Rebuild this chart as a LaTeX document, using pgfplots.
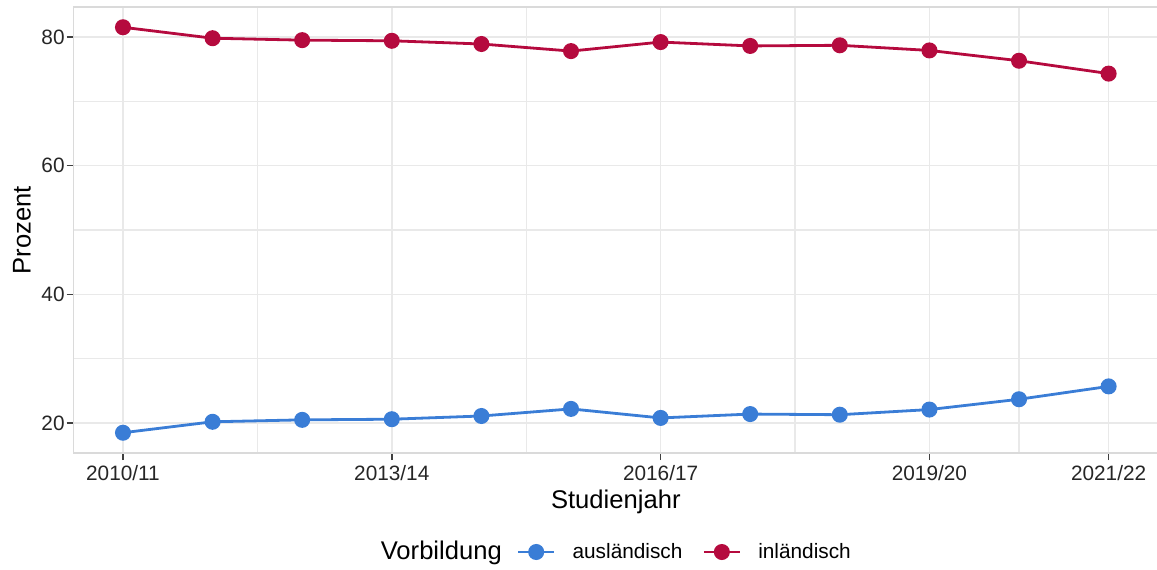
\documentclass[border=0pt]{standalone}
\usepackage{fontspec}
\setmainfont{Liberation Sans}
\usepackage{pgfplots}
\pgfplotsset{compat=1.18}
\definecolor{cblue}{RGB}{58,125,214}
\definecolor{cred}{RGB}{181,10,62}
\definecolor{gridc}{RGB}{233,233,233}
\definecolor{borderc}{RGB}{218,218,218}
\begin{document}
\begin{tikzpicture}
\useasboundingbox (-36.85pt,-58pt) rectangle (541.65pt,226.5pt);
\begin{axis}[
  at={(0,0)}, anchor=south west,
  scale only axis,
  width=542.1pt, height=223pt,
  xmin=-0.55, xmax=11.55,
  ymin=15.35, ymax=84.65,
  xtick={0,3,6,9,11},
  xticklabels={2010/11,2013/14,2016/17,2019/20,2021/22},
  minor xtick={1.5,4.5,7.5,10},
  ytick={20,40,60,80},
  minor ytick={30,50,70},
  grid=both,
  major grid style={gridc, line width=0.75pt},
  minor grid style={gridc, line width=0.55pt},
  axis line style={borderc, line width=0.75pt},
  tick style={black!75, line width=0.75pt},
  major tick length=3.5pt,
  minor tick length=0pt,
  tick align=outside,
  xtick pos=bottom, ytick pos=left,
  /pgf/number format/assume math mode=true,
  tick label style={font=\fontsize{10.4pt}{12pt}\selectfont, text=black!85},
  xticklabel style={yshift=1pt},
  yticklabel style={xshift=2.5pt},
  xlabel={Studienjahr},
  ylabel={Prozent},
  label style={font=\fontsize{12.8pt}{15pt}\selectfont},
  xlabel style={at={(axis description cs:0.5,0)}, anchor=north, yshift=-15pt},
  ylabel style={at={(axis description cs:-0.0477,0.5)}, anchor=center},
  legend columns=3,
  legend style={at={(axis description cs:0.5,0)}, anchor=center, yshift=-49.5pt,
    draw=none, fill=none, font=\fontsize{10.4pt}{12pt}\selectfont,
    /tikz/every even column/.append style={column sep=5.5pt}},
  legend image code/.code={
    \draw[#1, line width=1.4pt] (0pt,0pt) -- (18pt,0pt);
    \fill[#1] (9pt,0pt) circle (3.3pt);
  },
]
\addlegendimage{empty legend}
\addlegendentry{\fontsize{12.8pt}{15pt}\selectfont Vorbildung}
\addplot[cblue, line width=1.4pt, mark=*, mark size=3.3pt, mark options={draw=cblue, fill=cblue}] coordinates {
(0,18.5) (1,20.2) (2,20.5) (3,20.6) (4,21.1) (5,22.2) (6,20.8) (7,21.4) (8,21.3) (9,22.1) (10,23.7) (11,25.7)};
\addlegendentry{\hspace{6.5pt}ausländisch\rule{2.5pt}{0pt}}
\addplot[cred, line width=1.4pt, mark=*, mark size=3.3pt, mark options={draw=cred, fill=cred}] coordinates {
(0,81.5) (1,79.8) (2,79.5) (3,79.4) (4,78.9) (5,77.8) (6,79.2) (7,78.6) (8,78.7) (9,77.9) (10,76.3) (11,74.3)};
\addlegendentry{\hspace{6.5pt}inländisch}
\end{axis}
\end{tikzpicture}
\end{document}
